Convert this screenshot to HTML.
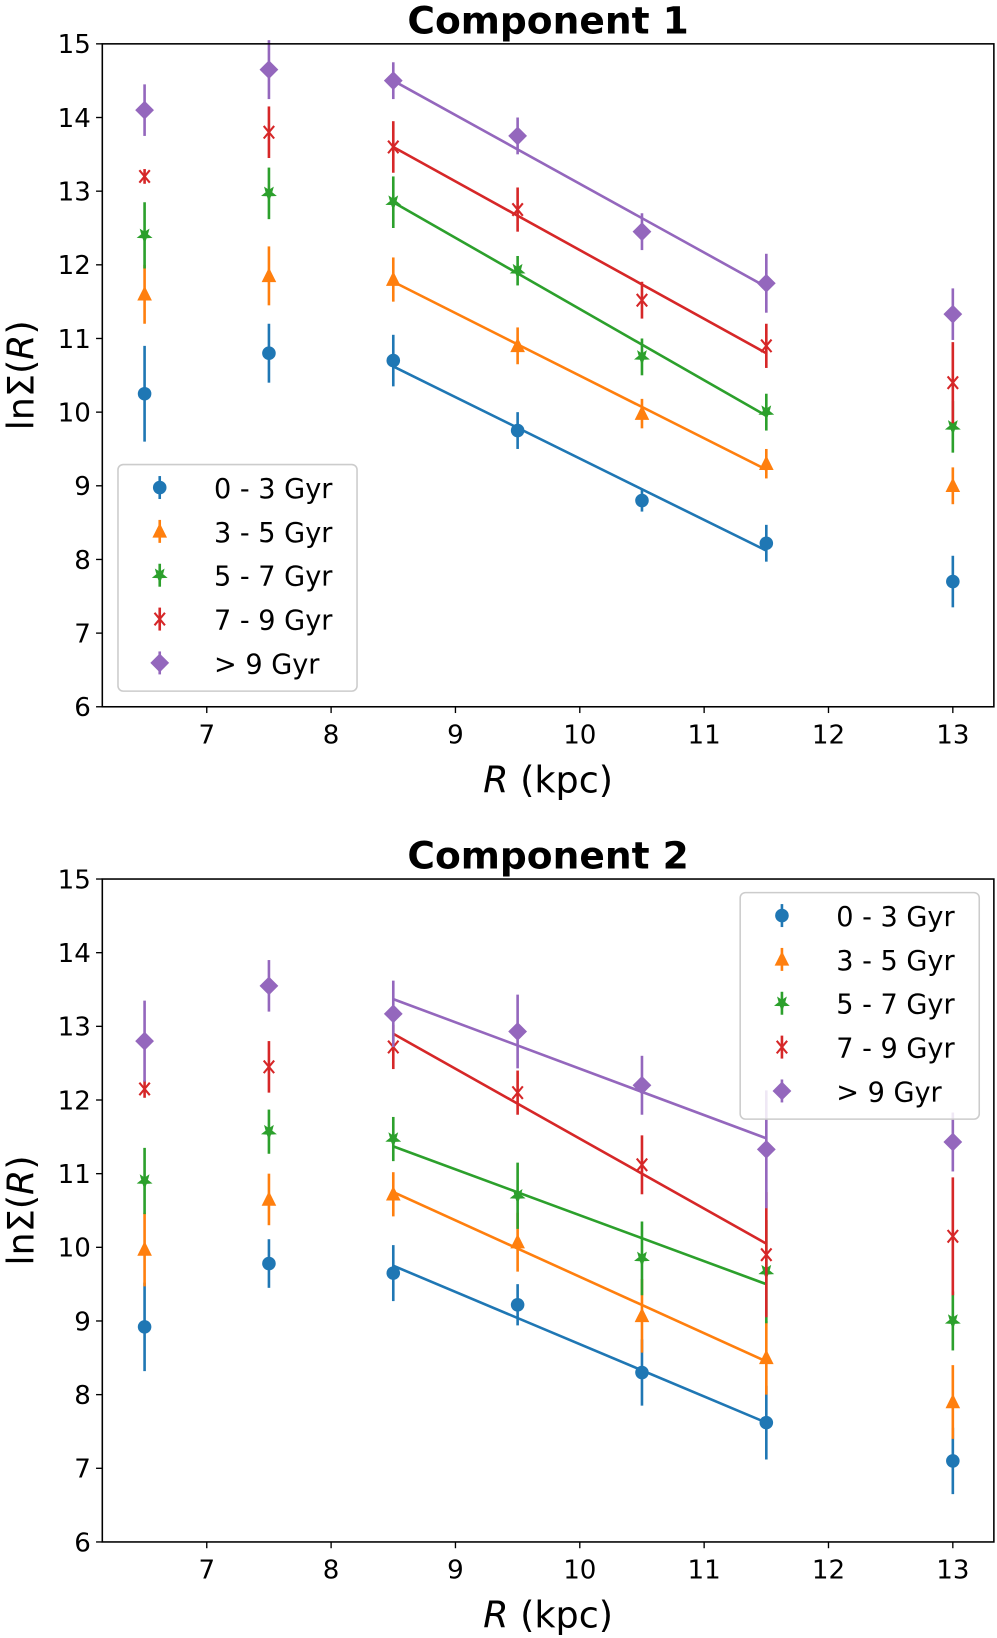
<!DOCTYPE html>
<html><head><meta charset="utf-8"><style>
html,body{margin:0;padding:0;background:#fff}
svg{display:block}
text{font-family:"DejaVu Sans","Liberation Sans",sans-serif;fill:#000}
</style></head><body>
<svg id="chart" width="997" height="1638" viewBox="0 0 955 1569" xmlns="http://www.w3.org/2000/svg"></svg>
<script>
const radii = [6.5, 7.5, 8.5, 9.5, 10.5, 11.5, 13];
const seriesLabels = ["0 - 3 Gyr", "3 - 5 Gyr", "5 - 7 Gyr", "7 - 9 Gyr", "> 9 Gyr"];
const xTicks = [7, 8, 9, 10, 11, 12, 13];
const yTicks = [6, 7, 8, 9, 10, 11, 12, 13, 14, 15];
const fitX = [8.5, 11.5];
// Component 1
const c1Blue = [10.25, 10.8, 10.7, 9.75, 8.8, 8.22, 7.7];
const c1BlueErr = [0.65, 0.4, 0.35, 0.25, 0.15, 0.25, 0.35];
const c1Orange = [11.6, 11.85, 11.8, 10.9, 9.98, 9.3, 9.0];
const c1OrangeErr = [0.4, 0.4, 0.3, 0.25, 0.2, 0.2, 0.25];
const c1Green = [12.4, 12.97, 12.85, 11.92, 10.75, 10.0, 9.8];
const c1GreenErr = [0.45, 0.35, 0.35, 0.2, 0.25, 0.25, 0.35];
const c1Red = [13.2, 13.8, 13.6, 12.75, 11.52, 10.9, 10.4];
const c1RedErr = [0.1, 0.35, 0.35, 0.3, 0.25, 0.3, 0.55];
const c1Purple = [14.1, 14.65, 14.5, 13.75, 12.45, 11.75, 11.33];
const c1PurpleErr = [0.35, 0.4, 0.25, 0.25, 0.25, 0.4, 0.35];
const c1Fits = [[10.62, 8.12], [11.77, 9.22], [12.85, 9.95], [13.6, 10.8], [14.5, 11.7]];
// Component 2
const c2Blue = [8.92, 9.78, 9.65, 9.22, 8.3, 7.62, 7.1];
const c2BlueErr = [0.6, 0.33, 0.38, 0.28, 0.45, 0.5, 0.45];
const c2Orange = [9.97, 10.65, 10.72, 10.07, 9.07, 8.5, 7.9];
const c2OrangeErr = [0.5, 0.35, 0.3, 0.4, 0.5, 0.5, 0.5];
const c2Green = [10.9, 11.57, 11.47, 10.7, 9.85, 9.67, 9.0];
const c2GreenErr = [0.45, 0.3, 0.3, 0.45, 0.5, 0.7, 0.4];
const c2Red = [12.15, 12.45, 12.72, 12.1, 11.12, 9.9, 10.15];
const c2RedErr = [0.12, 0.35, 0.3, 0.3, 0.4, 0.85, 0.8];
const c2Purple = [12.8, 13.55, 13.17, 12.93, 12.2, 11.33, 11.43];
const c2PurpleErr = [0.55, 0.35, 0.45, 0.5, 0.4, 0.8, 0.4];
const c2Fits = [[9.75, 7.62], [10.75, 8.45], [11.37, 9.5], [12.9, 10.05], [13.37, 11.48]];

const colors = ["#1f77b4", "#ff7f0e", "#2ca02c", "#d62728", "#9467bd"];
const markers = ["circle", "triangle", "star", "x", "diamond"];
const NS = "http://www.w3.org/2000/svg";
const svg = document.getElementById("chart");
function mk(tag, attrs, parent) {
  const e = document.createElementNS(NS, tag);
  for (const k in attrs) e.setAttribute(k, attrs[k]);
  (parent || svg).appendChild(e);
  return e;
}
function drawMarker(g, type, cx, cy, color) {
  let e;
  if (type === "circle") e = mk("circle", {cx, cy, r: 6.5, fill: color}, g);
  else if (type === "triangle") e = mk("polygon", {points: `${cx},${cy-8} ${cx+7},${cy+6} ${cx-7},${cy+6}`, fill: color}, g);
  else if (type === "star") {
    let pts = [];
    for (let i = 0; i < 10; i++) { const a = Math.PI/2 + i*Math.PI/5; const r = i%2 ? 3.4 : 8; pts.push((cx + r*Math.cos(a)).toFixed(1) + "," + (cy + r*Math.sin(a)).toFixed(1)); }
    e = mk("polygon", {points: pts.join(" "), fill: color}, g);
  } else if (type === "x") e = mk("path", {d: `M${cx-5},${cy-6}L${cx+5},${cy+6}M${cx-5},${cy+6}L${cx+5},${cy-6}`, stroke: color, "stroke-width": 2, fill: "none"}, g);
  else e = mk("polygon", {points: `${cx},${cy-9} ${cx+9},${cy} ${cx},${cy+9} ${cx-9},${cy}`, fill: color}, g);
  return e;
}
function panel(top, title, vals, errs, fits, legendPos, key) {
  const L = 98, R = 952, T = top, B = top + 635;
  const xmin = 6.16, xmax = 13.33;
  const X = v => L + (v - xmin) / (xmax - xmin) * (R - L);
  const Y = v => B - (v - 6) / 9 * (B - T);
  const g = mk("g", {});
  
  
  const t = mk("text", {x: 525, y: T - 10, "text-anchor": "middle", "font-size": 36, "font-weight": "bold"}, g);
  t.textContent = title;
  
  
  fits.forEach((f, s) => {
    const ln = mk("line", {x1: X(fitX[0]), y1: Y(f[0]), x2: X(fitX[1]), y2: Y(f[1]), stroke: colors[s], "stroke-width": 2.5}, g);
    
    
  });
  vals.forEach((arr, s) => {
    const sg = mk("g", {}, g);
    
    
    arr.forEach((v, i) => {
      const cx = X(radii[i]);
      const eb = mk("line", {x1: cx, x2: cx, y1: Y(v + errs[s][i]), y2: Y(v - errs[s][i]), stroke: colors[s], "stroke-width": 2.5}, sg);
      
      
      const m = drawMarker(sg, markers[s], cx, Y(v), colors[s]);
      
      
    });
  });
  const fr = mk("rect", {x: L, y: T, width: R - L, height: B - T, fill: "none", stroke: "#000", "stroke-width": 1.5}, g);
  
  
  xTicks.forEach(v => {
    mk("line", {x1: X(v), x2: X(v), y1: B, y2: B + 6, stroke: "#000", "stroke-width": 1.3}, g);
    const tx = mk("text", {x: X(v), y: B + 35, "text-anchor": "middle", "font-size": 25}, g);
    tx.textContent = v;
    
    
  });
  yTicks.forEach(v => {
    mk("line", {x1: L - 6, x2: L, y1: Y(v), y2: Y(v), stroke: "#000", "stroke-width": 1.3}, g);
    const ty = mk("text", {x: L - 11, y: Y(v) + 9, "text-anchor": "end", "font-size": 25}, g);
    ty.textContent = v;
    
    
  });
  const xl = mk("text", {x: 525, y: B + 82, "text-anchor": "middle", "font-size": 35}, g);
  xl.innerHTML = '<tspan font-style="italic">R</tspan> (kpc)';
  
  
  const yl = mk("text", {x: 0, y: 0, "text-anchor": "middle", "font-size": 35, transform: `translate(32,${(T + B) / 2}) rotate(-90)`}, g);
  yl.innerHTML = 'lnΣ(<tspan font-style="italic">R</tspan>)';
  
  
  const lg = mk("g", {}, g);
  
  
  mk("rect", {x: legendPos[0], y: legendPos[1], width: 229, height: 217, rx: 5, fill: "#fff", "fill-opacity": 0.85, stroke: "#ccc", "stroke-width": 1.5}, lg);
  seriesLabels.forEach((lab, s) => {
    const cy = legendPos[1] + 22 + s * 42;
    const mx = legendPos[0] + 40;
    const eg = mk("g", {}, lg);
    
    
    mk("line", {x1: mx, x2: mx, y1: cy - 11, y2: cy + 11, stroke: colors[s], "stroke-width": 2.5}, eg);
    drawMarker(eg, markers[s], mx, cy, colors[s]);
    const lt = mk("text", {x: legendPos[0] + 92, y: cy + 10, "font-size": 26}, eg);
    lt.textContent = lab;
  });
}
panel(42, "Component 1", [c1Blue, c1Orange, c1Green, c1Red, c1Purple],
  [c1BlueErr, c1OrangeErr, c1GreenErr, c1RedErr, c1PurpleErr], c1Fits, [113, 445], "component-1");
panel(842, "Component 2", [c2Blue, c2Orange, c2Green, c2Red, c2Purple],
  [c2BlueErr, c2OrangeErr, c2GreenErr, c2RedErr, c2PurpleErr], c2Fits, [709, 855], "component-2");
</script>
</body></html>
